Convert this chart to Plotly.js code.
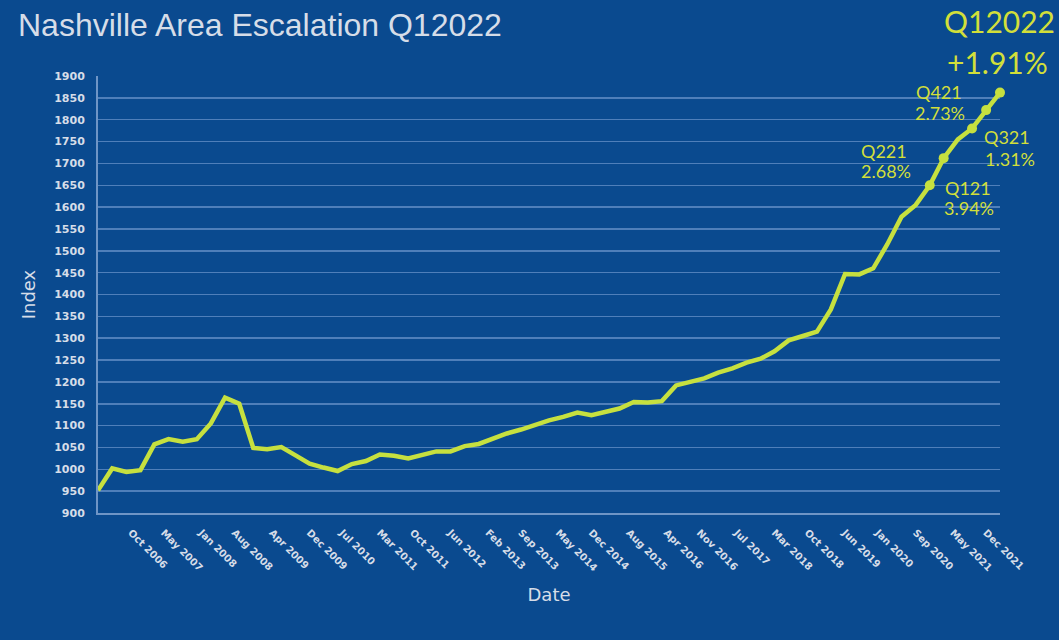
<!DOCTYPE html>
<html>
<head>
<meta charset="utf-8">
<script src="https://cdn.plot.ly/plotly-3.0.1.min.js"></script>
<style>html,body{margin:0;padding:0;background:#0a4a8f;}#chart{width:1059px;height:640px;}</style>
</head>
<body>
<div id="chart"></div>
<script>
// ---- data ----
const startYear = 2006, startMonth = 3; // first quarter point (Mar 2006), quarterly
const indexValues = [952,1002,994,998,1057,1069,1063,1069,1105,1164,1150,1049,1046,1051,1032,1013,1004,996,1012,1019,1034,1031,1025,1034,1041,1041,1053,1058,1070,1082,1091,1102,1112,1120,1130,1124,1131,1139,1154,1153,1156,1192,1200,1208,1221,1231,1244,1253,1270,1295,1305,1315,1366,1447,1446,1460,1515,1578,1605,1650,1712,1755,1780,1822,1862];
const tickDates = ['2006-10-01','2007-05-01','2008-01-01','2008-08-01','2009-04-01','2009-12-01','2010-07-01','2011-03-01','2011-10-01','2012-06-01','2013-02-01','2013-09-01','2014-05-01','2014-12-01','2015-08-01','2016-04-01','2016-11-01','2017-07-01','2018-03-01','2018-10-01','2019-06-01','2020-01-01','2020-09-01','2021-05-01','2021-12-01'];
const tickLabels = ['Oct 2006','May 2007','Jan 2008','Aug 2008','Apr 2009','Dec 2009','Jul 2010','Mar 2011','Oct 2011','Jun 2012','Feb 2013','Sep 2013','May 2014','Dec 2014','Aug 2015','Apr 2016','Nov 2016','Jul 2017','Mar 2018','Oct 2018','Jun 2019','Jan 2020','Sep 2020','May 2021','Dec 2021'];
const markerIdx = [59,60,62,63,64];
const qLabels = ['Q421','2.73%','Q321','1.31%','Q221','2.68%','Q121','3.94%'];
const headLabels = ['Q12022','+1.91%'];

// build quarterly dates
const dates = indexValues.map((v,i)=>{
  const m = startMonth - 1 + 3*i;
  const y = startYear + Math.floor(m/12);
  const mm = (m%12)+1;
  return y + '-' + String(mm).padStart(2,'0') + '-01';
});

// ---- layout helpers (pixel -> paper) ----
const L=98, R=1000, T=76, B=513;
const px = x => (x-L)/(R-L);
const py = y => (B-y)/(B-T);
const yellow = '#d2df3a';
const lineCol = '#c6e03f';
const txt = '#d6dde8';

const smallPos = [[914,92],[913,113],[982,137],[983,159],[859,151],[859,171],[943,188],[942,208]];
const headPos = [[999,21],[997,62]];

const annotations = [];
qLabels.forEach((t,i)=>annotations.push({
  text:t, xref:'paper', yref:'paper', x:px(smallPos[i][0]), y:py(smallPos[i][1]),
  xanchor:'left', yanchor:'middle', showarrow:false,
  font:{family:'Lato, sans-serif', size:18, color:yellow}
}));
headLabels.forEach((t,i)=>annotations.push({
  text:t, xref:'paper', yref:'paper', x:px(headPos[i][0]), y:py(headPos[i][1]),
  xanchor:'center', yanchor:'middle', showarrow:false,
  font:{family:'Lato, sans-serif', size:30, color:yellow}
}));

const traces = [
  {x:dates, y:indexValues, type:'scatter', mode:'lines', cliponaxis:false,
   line:{color:lineCol, width:4.5, shape:'linear'}, hoverinfo:'x+y'},
  {x:markerIdx.map(i=>dates[i]), y:markerIdx.map(i=>indexValues[i]), type:'scatter', mode:'markers',
   cliponaxis:false, marker:{color:lineCol, size:10}, hoverinfo:'x+y'}
];

const layout = {
  width:1059, height:640,
  paper_bgcolor:'#0a4a8f', plot_bgcolor:'#0a4a8f',
  margin:{l:L, r:1059-R, t:T, b:640-B},
  showlegend:false,
  title:{text:'Nashville Area Escalation Q12022', x:18/1059, xanchor:'left', xref:'container',
         y:1-25/640, yanchor:'middle', yref:'container',
         font:{family:'Liberation Sans, Arial, sans-serif', size:32, color:txt}},
  xaxis:{type:'date', range:[dates[0], dates[dates.length-1]],
         tickmode:'array', tickvals:tickDates, ticktext:tickLabels, tickangle:45,
         ticks:'', ticklabelstandoff:8,
         tickfont:{family:'DejaVu Sans, sans-serif', size:10, weight:'bold', color:txt},
         showgrid:false, zeroline:false, showline:true, linecolor:'#6f95c6', linewidth:2,
         title:{text:'Date', standoff:16, font:{family:'DejaVu Sans, sans-serif', size:18, color:txt}}},
  yaxis:{range:[900,1900], dtick:50, tick0:900, ticks:'', ticklabelstandoff:9,
         tickfont:{family:'DejaVu Sans, sans-serif', size:11, weight:'bold', color:txt},
         showgrid:true, gridcolor:'#4f7fba', gridwidth:1.5, zeroline:false,
         showline:true, linecolor:'#6f95c6', linewidth:2,
         title:{text:'Index', standoff:14, font:{family:'DejaVu Sans, sans-serif', size:18, color:txt}}},
  annotations:annotations
};

Plotly.newPlot('chart', traces, layout, {displayModeBar:false, staticPlot:true});
</script>
</body>
</html>
